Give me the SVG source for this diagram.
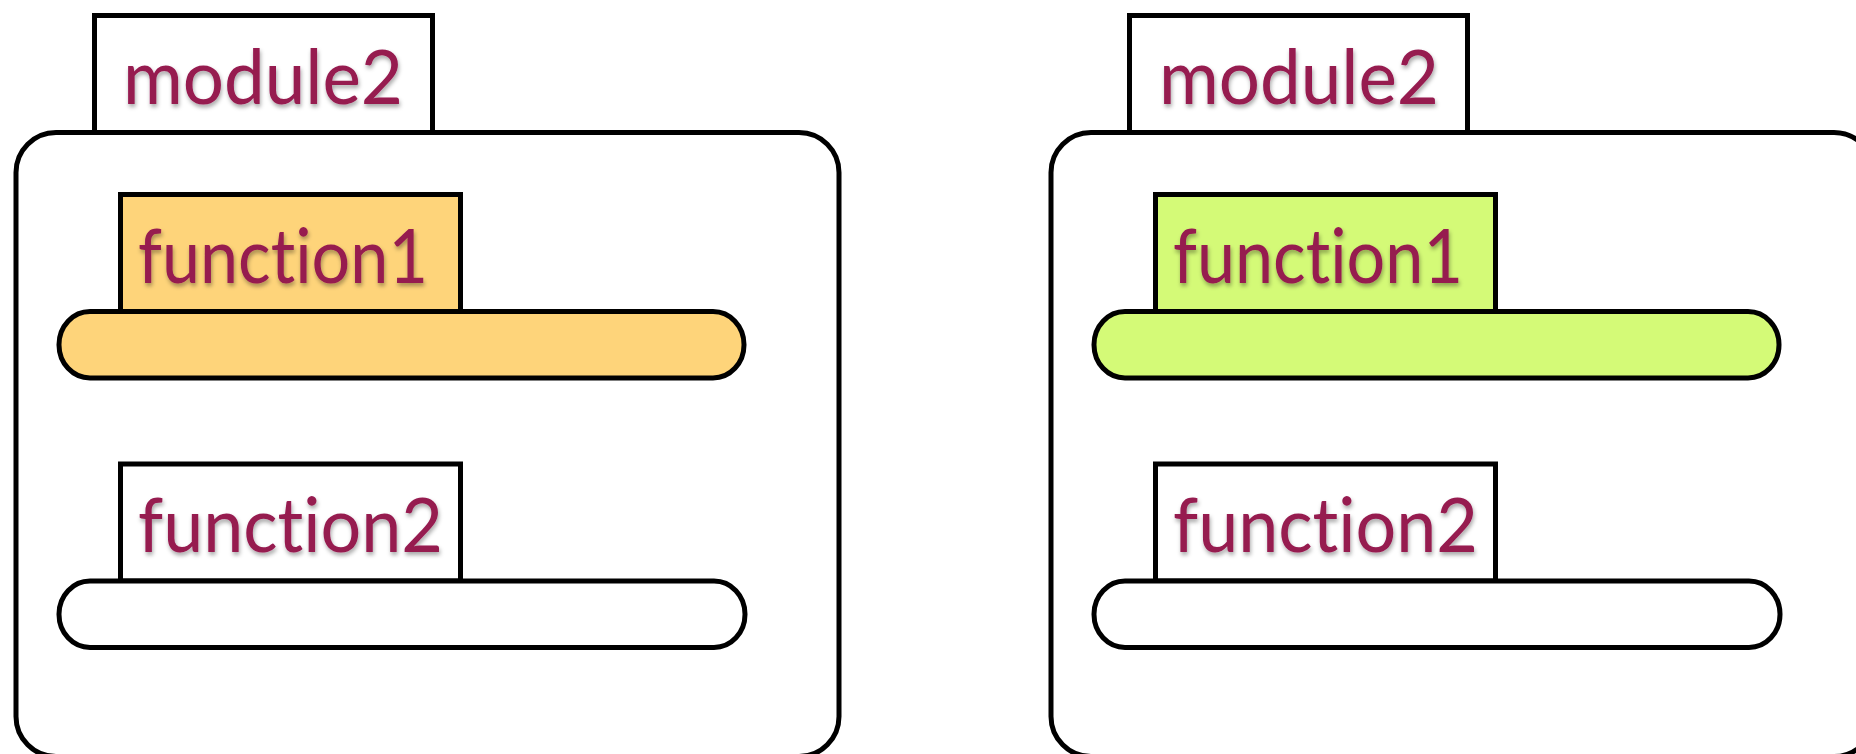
<svg xmlns="http://www.w3.org/2000/svg" width="1856" height="754" viewBox="0 0 1856 754">
<style>
.box{stroke:#000;stroke-width:5;}
.white{fill:#fff;}
.orange{fill:#FED47A;}
.green{fill:#D4FA77;}
.lbl{font-family:Lato,"Open Sans","Liberation Sans",sans-serif;font-size:75px;fill:#961A50;filter:url(#sh);font-variant-ligatures:none;font-feature-settings:"liga" 0;}
</style>
<defs>
<filter id="sh" x="-10%" y="-20%" width="120%" height="150%">
<feDropShadow dx="1" dy="3" stdDeviation="2" flood-color="#000" flood-opacity="0.35"/>
</filter>
</defs>
<g id="left">
<g id="left-module2">
<rect class="box white" x="16" y="132.5" width="823" height="624" rx="40"/>
<rect class="box white" x="94.5" y="15.5" width="338" height="117"/>
<text class="lbl" x="123" y="104" textLength="280" lengthAdjust="spacingAndGlyphs">module2</text>
</g>
<g id="left-function1">
<rect class="box orange" x="120.5" y="194.5" width="340" height="117"/>
<rect class="box orange" x="59" y="311.5" width="685" height="66.5" rx="31" ry="33"/>
<text class="lbl" x="138" y="283" textLength="290" lengthAdjust="spacingAndGlyphs">function1</text>
</g>
<g id="left-function2">
<rect class="box white" x="120.5" y="464" width="340" height="117"/>
<rect class="box white" x="59" y="581" width="686" height="66.5" rx="31" ry="33"/>
<text class="lbl" x="138" y="552" textLength="305" lengthAdjust="spacingAndGlyphs">function2</text>
</g>
</g>
<g id="right" transform="translate(1035,0)">
<g id="right-module2">
<rect class="box white" x="16" y="132.5" width="823" height="624" rx="40"/>
<rect class="box white" x="94.5" y="15.5" width="338" height="117"/>
<text class="lbl" x="124" y="104" textLength="280" lengthAdjust="spacingAndGlyphs">module2</text>
</g>
<g id="right-function1">
<rect class="box green" x="120.5" y="194.5" width="340" height="117"/>
<rect class="box green" x="59" y="311.5" width="685" height="66.5" rx="31" ry="33"/>
<text class="lbl" x="138" y="283" textLength="290" lengthAdjust="spacingAndGlyphs">function1</text>
</g>
<g id="right-function2">
<rect class="box white" x="120.5" y="464" width="340" height="117"/>
<rect class="box white" x="59" y="581" width="686" height="66.5" rx="31" ry="33"/>
<text class="lbl" x="138" y="552" textLength="305" lengthAdjust="spacingAndGlyphs">function2</text>
</g>
</g>
<g id="connectors"/>
</svg>
